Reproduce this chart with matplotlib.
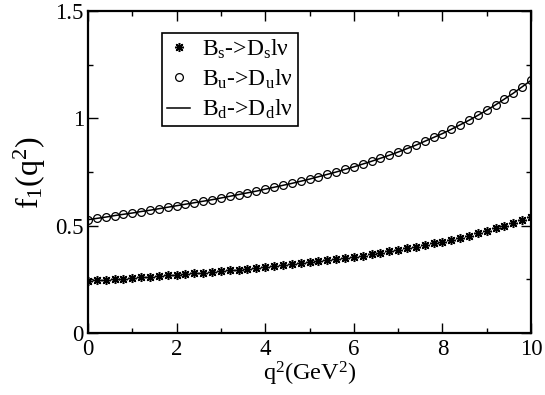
import matplotlib
matplotlib.use("Agg")
import matplotlib.pyplot as plt
from matplotlib.ticker import MultipleLocator, FuncFormatter

plt.rcParams['font.family'] = ['Liberation Serif', 'DejaVu Serif']
plt.rcParams['mathtext.fontset'] = 'custom'
plt.rcParams['mathtext.rm'] = 'Liberation Serif'
plt.rcParams['mathtext.it'] = 'Liberation Serif:italic'

# q^2 grid (GeV^2)
q2 = [0.0, 0.2, 0.4, 0.6, 0.8, 1.0, 1.2, 1.4, 1.6, 1.8,
      2.0, 2.2, 2.4, 2.6, 2.8, 3.0, 3.2, 3.4, 3.6, 3.8,
      4.0, 4.2, 4.4, 4.6, 4.8, 5.0, 5.2, 5.4, 5.6, 5.8,
      6.0, 6.2, 6.4, 6.6, 6.8, 7.0, 7.2, 7.4, 7.6, 7.8,
      8.0, 8.2, 8.4, 8.6, 8.8, 9.0, 9.2, 9.4, 9.6, 9.8, 10.0]

# Bs -> Ds l nu
f1_bs = [0.242, 0.245, 0.248, 0.251, 0.253, 0.256, 0.259, 0.262, 0.265, 0.269,
         0.272, 0.275, 0.278, 0.281, 0.285, 0.288, 0.292, 0.295, 0.299, 0.303,
         0.307, 0.311, 0.315, 0.320, 0.324, 0.329, 0.334, 0.339, 0.344, 0.349,
         0.355, 0.361, 0.367, 0.373, 0.380, 0.387, 0.394, 0.401, 0.409, 0.417,
         0.426, 0.435, 0.444, 0.454, 0.465, 0.476, 0.487, 0.499, 0.512, 0.526, 0.540]

# Bu -> Du l nu
f1_bu = [0.528, 0.534, 0.540, 0.547, 0.553, 0.559, 0.566, 0.572, 0.579, 0.586,
         0.593, 0.600, 0.607, 0.614, 0.621, 0.629, 0.637, 0.645, 0.653, 0.661,
         0.670, 0.679, 0.688, 0.697, 0.707, 0.717, 0.728, 0.739, 0.750, 0.762,
         0.774, 0.787, 0.800, 0.814, 0.828, 0.843, 0.859, 0.875, 0.893, 0.911,
         0.929, 0.949, 0.970, 0.991, 1.014, 1.038, 1.063, 1.090, 1.117, 1.147, 1.177]

# Bd -> Dd l nu (on top of the Bu points)
f1_bd = [0.528, 0.534, 0.540, 0.547, 0.553, 0.559, 0.566, 0.572, 0.579, 0.586,
         0.593, 0.600, 0.607, 0.614, 0.621, 0.629, 0.637, 0.645, 0.653, 0.661,
         0.670, 0.679, 0.688, 0.697, 0.707, 0.717, 0.728, 0.739, 0.750, 0.762,
         0.774, 0.787, 0.800, 0.814, 0.828, 0.843, 0.859, 0.875, 0.893, 0.911,
         0.929, 0.949, 0.970, 0.991, 1.014, 1.038, 1.063, 1.090, 1.117, 1.147, 1.177]

fig = plt.figure(figsize=(5.45, 3.95), dpi=100)
ax = fig.add_axes([0.1615, 0.157, 0.8128, 0.815])

ax.plot(q2, f1_bs, linestyle='none', marker=(8, 2, 0), markersize=6.5,
        markeredgewidth=1.1, color='black', label=r'B$_\mathrm{s}$->D$_\mathrm{s}$lν')
ax.plot(q2, f1_bu, linestyle='none', marker='o', markersize=5.6,
        markerfacecolor='none', markeredgewidth=0.9, color='black',
        label=r'B$_\mathrm{u}$->D$_\mathrm{u}$lν')
ax.plot(q2, f1_bd, linestyle='-', linewidth=1.1, color='black',
        label=r'B$_\mathrm{d}$->D$_\mathrm{d}$lν')

ax.set_xlim(0, 10)
ax.set_ylim(0, 1.5)
ax.xaxis.set_major_locator(MultipleLocator(2))
ax.xaxis.set_minor_locator(MultipleLocator(1))
ax.yaxis.set_major_locator(MultipleLocator(0.5))
ax.yaxis.set_minor_locator(MultipleLocator(0.25))
fmt = FuncFormatter(lambda v, p: '%g' % v)
ax.xaxis.set_major_formatter(fmt)
ax.yaxis.set_major_formatter(fmt)

ax.tick_params(which='both', direction='in', top=True, right=True, width=1.0,
               labelsize=16.5)
ax.tick_params(which='major', length=7)
ax.tick_params(which='minor', length=3.5)
ax.tick_params(axis='x', pad=4)
ax.tick_params(axis='y', pad=3)
for s in ax.spines.values():
    s.set_linewidth(1.6)

ax.set_xlabel(r'q$^2$(GeV$^2$)', fontsize=17.5, labelpad=0)
ax.set_ylabel(r'f$_1$(q$^2$)', fontsize=23, labelpad=5)

leg = ax.legend(loc='upper left', bbox_to_anchor=(0.167, 0.933), fontsize=17,
                handlelength=1.0, handletextpad=0.5, borderpad=0.2,
                labelspacing=0.3, borderaxespad=0, fancybox=False,
                framealpha=1, edgecolor='black')
leg.get_frame().set_linewidth(1.2)

plt.savefig('out.png', dpi=100)
